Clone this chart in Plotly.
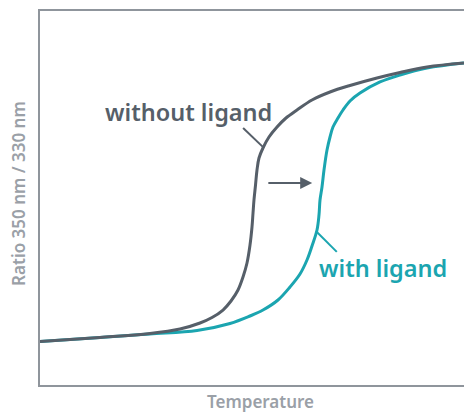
import plotly.graph_objects as go

# readings (arbitrary units, 0-100 on both axes)
temp_without = [0, 14.15, 25.94, 33.02, 37.74, 40.57, 43.16, 45.05, 46.70, 47.88,
                48.82, 49.53, 50.00, 50.24, 50.47, 50.83, 51.18, 51.65, 52.59, 54.01,
                55.90, 58.02, 60.61, 64.15, 68.40, 73.11, 79.48, 84.91, 91.27, 100]
ratio_without = [11.63, 12.70, 13.77, 14.97, 16.58, 18.05, 20.05, 22.46, 25.40, 28.88,
                 32.62, 37.43, 42.25, 45.99, 49.47, 53.48, 57.49, 60.70, 63.37, 66.31,
                 68.98, 71.39, 73.53, 76.20, 78.34, 80.08, 82.09, 83.56, 85.03, 86.10]

temp_with = [0, 14.15, 25.94, 37.03, 44.81, 49.53, 52.59, 56.13, 58.96, 61.32,
             62.97, 64.15, 65.33, 65.80, 66.04, 66.51, 66.98, 67.69, 68.40, 69.10,
             70.28, 71.46, 73.11, 75.47, 80.19, 84.91, 91.27, 100]
ratio_with = [11.63, 12.70, 13.64, 14.57, 16.44, 18.45, 20.05, 22.73, 26.20, 29.68,
              33.42, 37.17, 41.44, 45.45, 49.47, 52.94, 57.49, 62.83, 66.31, 68.98,
              71.39, 73.53, 75.94, 78.07, 81.02, 82.89, 84.76, 86.10]

GRAY = '#565f69'
TEAL = '#1ba5b0'
AXIS = '#8f959c'
TITLE = '#9aa0a7'
FONT = 'Noto Sans'

fig = go.Figure()

fig.add_trace(go.Scatter(
    x=temp_with, y=ratio_with, mode='lines',
    line=dict(color=TEAL, width=3, shape='spline', smoothing=1.0),
    hoverinfo='skip'
))
fig.add_trace(go.Scatter(
    x=temp_without, y=ratio_without, mode='lines',
    line=dict(color=GRAY, width=3, shape='spline', smoothing=1.0),
    hoverinfo='skip'
))

# labels
fig.add_annotation(x=35.1, y=73.0, text='without ligand', showarrow=False,
                   font=dict(family=FONT, size=23.5, color=GRAY, weight=600))
fig.add_annotation(x=80.9, y=31.3, text='with ligand', showarrow=False,
                   font=dict(family=FONT, size=23.5, color=TEAL, weight=600))

# leader lines
fig.add_shape(type='line', x0=47.9, y0=68.7, x1=52.8, y1=63.4,
              line=dict(color=GRAY, width=2))
fig.add_shape(type='line', x0=65.3, y0=40.9, x1=70.0, y1=35.6,
              line=dict(color=TEAL, width=2))

# shift arrow
fig.add_annotation(x=64.2, y=54.0, ax=53.5, ay=54.0, axref='x', ayref='y',
                   xref='x', yref='y', text='', showarrow=True,
                   arrowhead=2, arrowsize=1.2, arrowwidth=2, arrowcolor=GRAY)

# axis titles
fig.add_annotation(xref='paper', yref='paper', x=0.521, y=-0.043,
                   text='Temperature', showarrow=False, yanchor='middle',
                   font=dict(family=FONT, size=17, color=TITLE, weight=600))
fig.add_annotation(xref='paper', yref='paper', x=-0.0495, y=0.511,
                   text='Ratio 350 nm / 330 nm', showarrow=False, textangle=-90,
                   xanchor='center', yanchor='middle',
                   font=dict(family=FONT, size=17, color=TITLE, weight=600))

fig.update_xaxes(range=[0, 100], showgrid=False, zeroline=False, showticklabels=False,
                 ticks='', showline=True, linecolor=AXIS, linewidth=1.5, mirror=True)
fig.update_yaxes(range=[0, 100], showgrid=False, zeroline=False, showticklabels=False,
                 ticks='', showline=True, linecolor=AXIS, linewidth=1.5)

fig.update_layout(
    width=464, height=415,
    margin=dict(l=40, r=0, t=11, b=30),
    plot_bgcolor='white', paper_bgcolor='white',
    showlegend=False
)

fig.write_html("out.html", config={'displayModeBar': False},
               post_script="document.body.style.margin='0';")
